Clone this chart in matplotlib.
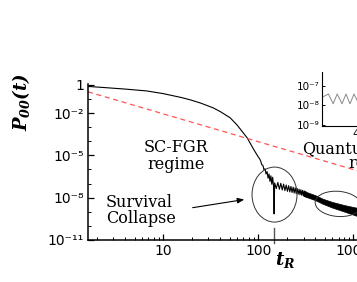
import numpy as np
import matplotlib
matplotlib.use('Agg')
import matplotlib.pyplot as plt
from matplotlib.patches import Ellipse
from matplotlib.ticker import FixedLocator, LogLocator, NullFormatter

# survival probability (log10 values)
t_decay = [1.62, 1.7, 2.5, 4, 6.7, 10, 15.6, 19.7, 25, 33.6, 40, 50.8, 60, 76.6, 90, 100]
logP_decay = [-0.12, -0.12, -0.2, -0.3, -0.43, -0.62, -0.90, -1.08, -1.3, -1.63, -1.9, -2.34, -2.85, -3.76, -4.6, -5.1]

# thickening before the collapse
t_pre = [103, 106, 109, 112, 115, 118, 121, 124, 127, 130, 133, 136, 139, 142, 145]
logP_pre = [-5.22, -5.38, -5.66, -5.70, -6.02, -5.95, -6.32, -6.15, -6.62, -6.32, -6.85, -6.45, -7.05, -6.55, -7.2]

# the collapse spike at t_R
t_spike = [147, 149]
logP_spike = [-9.15, -6.95]

# oscillations after t_R
t_osc = [155, 161, 167, 173, 179, 185, 191, 197, 203, 209, 215, 221, 227, 233, 239,
         245, 251, 257, 263, 269, 275, 281, 287, 293, 299, 305, 311, 317, 323]
logP_osc = [-7.35, -6.92, -7.40, -6.98, -7.45, -7.04, -7.50, -7.10, -7.55, -7.15, -7.59, -7.20, -7.63, -7.25, -7.67,
            -7.30, -7.71, -7.35, -7.75, -7.40, -7.79, -7.44, -7.83, -7.48, -7.87, -7.52, -7.90, -7.56, -7.93]

# dense oscillation band (upper / lower edges)
t_band = [300, 400, 480, 600, 800, 1100, 1500]
logP_band_hi = [-7.52, -7.83, -8.08, -8.30, -8.52, -8.72, -8.93]
logP_band_lo = [-7.88, -8.18, -8.44, -8.70, -8.98, -9.30, -9.58]

# FGR power law (red dashed)
t_fgr = [1.62, 1500]
P_fgr = [0.32, 4.5e-7]

t_R = 147

# inset
inset_t = [350, 358, 364, 369, 375, 380, 385, 390, 396, 401, 407, 412, 418, 424, 429, 435, 441, 446, 452]
inset_logP = [-7.59, -7.42, -7.92, -7.42, -7.92, -7.42, -7.92, -7.42, -7.92, -7.42,
              -7.92, -7.42, -7.92, -7.42, -7.92, -7.42, -7.92, -7.42, -7.92]

ytick_vals = [1, 1e-2, 1e-5, 1e-8, 1e-11]
ytick_labels = ['1', '10⁻²', '10⁻⁵', '10⁻⁸', '10⁻¹¹']
xtick_vals = [10, 100, 1000]
xtick_labels = ['10', '100', '1000']
inset_yvals = [1e-9, 1e-8, 1e-7]
inset_ylabels = ['10⁻⁹', '10⁻⁸', '10⁻⁷']

plt.rcParams['mathtext.fontset'] = 'custom'
plt.rcParams['mathtext.it'] = 'DejaVu Serif:italic:bold'
plt.rcParams['mathtext.rm'] = 'DejaVu Serif:italic:bold'
plt.rcParams['mathtext.bf'] = 'DejaVu Serif:bold'

fig = plt.figure(figsize=(3.57, 2.82), dpi=100)
ax = fig.add_axes([88/357, 42/282, 282/357, 156/282])

t_line = np.concatenate([t_decay, t_pre, t_spike, t_osc])
P_line = 10**np.concatenate([logP_decay, logP_pre, logP_spike, logP_osc])
ax.plot(t_line, P_line, color='black', lw=0.8)
ax.fill_between(t_band, 10**np.array(logP_band_lo), 10**np.array(logP_band_hi),
                color='black', lw=0.5)
ax.plot(t_fgr, P_fgr, color='#ff5555', lw=0.9, dashes=(4, 3))

ax.set_xscale('log')
ax.set_yscale('log')
ax.set_xlim(1.62, 1500)
ax.set_ylim(1e-11, 1.15)

for s in ['top', 'right']:
    ax.spines[s].set_visible(False)
for s in ['left', 'bottom']:
    ax.spines[s].set_linewidth(1.1)

ax.set_yticks(ytick_vals, minor=False)
ax.set_yticks([10.0**k for k in range(-11, 1)], minor=True)
ax.set_yticklabels(ytick_labels)
ax.yaxis.set_minor_formatter(NullFormatter())
ax.set_xticks(xtick_vals)
ax.set_xticklabels(xtick_labels)
ax.xaxis.set_minor_locator(LogLocator(base=10, subs=np.arange(2, 10), numticks=10))
ax.xaxis.set_minor_formatter(NullFormatter())
ax.tick_params(which='major', direction='in', length=4, width=0.9, labelsize=10, pad=3)
ax.tick_params(which='minor', direction='in', length=2.5, width=0.7)
for lab in ax.get_xticklabels() + ax.get_yticklabels():
    lab.set_family('DejaVu Sans')

# t_R marker
ax.axvline(t_R, ymin=-0.02, ymax=0.077, color='#555555', lw=1.0, clip_on=False)

fig.text(0.059, 0.638, r'$P_{00}(t)$', rotation=90, fontsize=13, ha='center', va='center')
fig.text(0.798, 0.078, r'$t_R$', fontsize=13, ha='center', va='center')

fig.text(0.493, 0.447, 'SC-FGR\nregime', family='DejaVu Serif', fontsize=11.5,
         ha='center', va='center', linespacing=0.95)
fig.text(302/357, 1 - 149/282, 'Quantum', family='DejaVu Serif', fontsize=11.5, va='center')
fig.text(348/357, 1 - 163/282, 'regime', family='DejaVu Serif', fontsize=11.5, va='center')
fig.text(106/357, 0.254, 'Survival\nCollapse', family='DejaVu Serif', fontsize=11.5,
         ha='left', va='center', linespacing=0.95)

fig.add_artist(Ellipse((0.769, 0.310), 0.126, 0.195, transform=fig.transFigure,
                       fill=False, ec='#333333', lw=0.7))
fig.add_artist(Ellipse((0.947, 0.277), 0.129, 0.089, angle=-8, transform=fig.transFigure,
                       fill=False, ec='#333333', lw=0.7))
fig.add_artist(matplotlib.patches.FancyArrowPatch((0.532, 0.262), (0.692, 0.294),
                                                  transform=fig.transFigure,
                                                  arrowstyle='-|>,head_length=4,head_width=1.6',
                                                  color='black', lw=0.8))

# inset
axi = fig.add_axes([322/357, 156/282, 80/357, 54/282])
axi.plot(inset_t, 10**np.array(inset_logP), color='#888888', lw=0.7)
axi.set_yscale('log')
axi.set_xlim(350, 450)
axi.set_ylim(10**-9.05, 10**-6.3)
axi.set_yticks(inset_yvals)
axi.set_yticklabels(inset_ylabels)
axi.yaxis.set_minor_formatter(NullFormatter())
axi.yaxis.set_minor_locator(FixedLocator([]))
axi.set_xticks([400])
axi.set_xticklabels(['400'])
for s in ['top', 'right']:
    axi.spines[s].set_visible(False)
axi.tick_params(direction='in', length=2.5, width=0.7, labelsize=7.5, pad=2)
for s in ['left', 'bottom']:
    axi.spines[s].set_linewidth(0.8)

fig.savefig('out.png', dpi=100)
